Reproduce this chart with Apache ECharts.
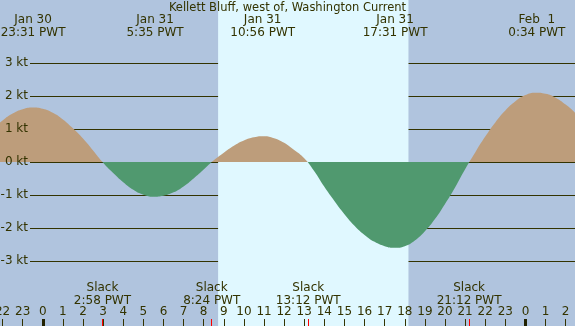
<!DOCTYPE html>
<html><head><meta charset="utf-8">
<script src="https://cdn.jsdelivr.net/npm/echarts@6/dist/echarts.min.js"></script>
<style>html,body{margin:0;padding:0;background:#b0c4de}#c{width:575px;height:326px}</style>
</head><body><div id="c"></div>
<script>
const titleText = 'Kellett Bluff, west of, Washington Current';
// hours relative to Jan 31 00:00 PWT (half-hourly readings)
const hours  = [-2.5, -2, -1.5, -1, -0.5, 0, 0.5, 1, 1.5, 2, 2.5, 3, 3.5, 4, 4.5, 5, 5.5, 6, 6.5, 7, 7.5, 8, 8.5, 9, 9.5, 10, 10.5, 11, 11.5, 12, 12.5, 13, 13.5, 14, 14.5, 15, 15.5, 16, 16.5, 17, 17.5, 18, 18.5, 19, 19.5, 20, 20.5, 21, 21.5, 22, 22.5, 23, 23.5, 24, 24.5, 25, 25.5, 26, 26.5, 27];
const speeds = [0.99, 1.26, 1.47, 1.60, 1.65, 1.61, 1.49, 1.29, 1.02, 0.71, 0.35, -0.02, -0.33, -0.61, -0.84, -0.99, -1.05, -1.02, -0.92, -0.74, -0.50, -0.23, 0.05, 0.28, 0.49, 0.65, 0.75, 0.78, 0.72, 0.58, 0.36, 0.11, -0.28, -0.75, -1.18, -1.58, -1.93, -2.21, -2.42, -2.55, -2.60, -2.55, -2.38, -2.10, -1.73, -1.27, -0.77, -0.22, 0.29, 0.77, 1.20, 1.56, 1.84, 2.03, 2.10, 2.07, 1.95, 1.74, 1.47, 1.13];
const extremeHours  = [-0.483, 5.583, 10.933, 17.517, 24.567];
const extremeLabels = ['Jan 30\n23:31 PWT', 'Jan 31\n5:35 PWT', 'Jan 31\n10:56 PWT', 'Jan 31\n17:31 PWT', 'Feb  1\n0:34 PWT'];
const slackHours  = [2.967, 8.4, 13.2, 21.2];
const slackLabels = ['Slack\n2:58 PWT', 'Slack\n8:24 PWT', 'Slack\n13:12 PWT', 'Slack\n21:12 PWT'];
const tickHours = [-2, -1, 0, 1, 2, 3, 4, 5, 6, 7, 8, 9, 10, 11, 12, 13, 14, 15, 16, 17, 18, 19, 20, 21, 22, 23, 24, 25, 26];
const midnightHours = [0, 24];
const speedTicks = [-3, -2, -1, 0, 1, 2, 3];
const daylight = [8.717, 18.183];
const xRange = [-2.128, 26.464];
const yRange = [-164 / 33, 162 / 33];

const FONT = 'DejaVu Sans';
const TXT = '#333300';
const NIGHT = '#b0c4de', DAY = '#e0f8ff', FLOOD = '#bd9d7b', EBB = '#50996f';

function pick(vals, labels) {
  return v => { const i = vals.findIndex(x => Math.abs(x - v) < 1e-6); return i < 0 ? '' : labels[i]; };
}

const chart = echarts.init(document.getElementById('c'), null, {renderer: 'canvas'});
const baseX = {type: 'value', min: xRange[0], max: xRange[1], gridIndex: 0, position: 'bottom',
  axisLine: {show: false, onZero: false}, splitLine: {show: false}, z: 5};
chart.setOption({
  backgroundColor: NIGHT,
  animation: false,
  title: {text: titleText, left: 'center', top: 2, padding: 0,
    textStyle: {fontFamily: FONT, fontSize: 11.5, fontWeight: 'normal', color: TXT}},
  grid: [
    {left: 0, right: 0, top: 0, bottom: 0, containLabel: false, outerBoundsMode: 'none'},
    {left: 30, right: 0, top: 0, bottom: 0, containLabel: false, outerBoundsMode: 'none'}
  ],
  xAxis: [
    Object.assign({}, baseX, {
      axisTick: {show: true, inside: true, length: 7, customValues: tickHours, lineStyle: {color: TXT, width: 1}},
      axisLabel: {show: true, inside: true, margin: 8, customValues: tickHours, hideOverlap: false,
        formatter: v => String(((Math.round(v) % 24) + 24) % 24), fontFamily: FONT, fontSize: 12, color: TXT}
    }),
    Object.assign({}, baseX, {
      axisTick: {show: true, inside: true, length: 7, customValues: midnightHours, lineStyle: {color: '#222200', width: 3}},
      axisLabel: {show: false}
    }),
    Object.assign({}, baseX, {
      axisTick: {show: true, inside: true, length: 7, customValues: slackHours, lineStyle: {color: '#ff0000', width: 1}},
      axisLabel: {show: true, inside: true, margin: 19, customValues: slackHours, hideOverlap: false,
        formatter: pick(slackHours, slackLabels), fontFamily: FONT, fontSize: 12, lineHeight: 12.5, color: TXT}
    }),
    Object.assign({}, baseX, {position: 'top',
      axisTick: {show: false},
      axisLabel: {show: true, inside: true, margin: 14, customValues: extremeHours, hideOverlap: false,
        formatter: pick(extremeHours, extremeLabels), fontFamily: FONT, fontSize: 12, lineHeight: 12.5, color: TXT}
    }),
    {type: 'value', gridIndex: 1, min: xRange[0], max: xRange[1], show: false}
  ],
  yAxis: [
    {type: 'value', gridIndex: 0, min: yRange[0], max: yRange[1], show: false},
    {type: 'value', gridIndex: 1, position: 'left', min: yRange[0], max: yRange[1], z: 1,
      axisLine: {show: false, onZero: false},
      axisTick: {show: false, customValues: speedTicks},
      axisLabel: {show: false},
      splitLine: {show: true, lineStyle: {color: TXT, width: 1}}},
    {type: 'value', gridIndex: 1, position: 'left', min: yRange[0], max: yRange[1], z: 6,
      axisLine: {show: false, onZero: false},
      axisTick: {show: false, customValues: speedTicks},
      axisLabel: {show: true, margin: 2, customValues: speedTicks, hideOverlap: false, padding: [3, 0, 0, 0],
        formatter: v => Math.round(v) + ' kt', fontFamily: FONT, fontSize: 12, color: TXT},
      splitLine: {show: false}}
  ],
  series: [
    {type: 'line', xAxisIndex: 0, yAxisIndex: 0, z: 2, smooth: 0.5, symbol: 'none', silent: true,
      data: hours.map((h, i) => [h, speeds[i]]),
      lineStyle: {width: 0}, areaStyle: {opacity: 1, color: FLOOD}},
    {type: 'line', xAxisIndex: 0, yAxisIndex: 0, z: 0, symbol: 'none', silent: true,
      data: [[xRange[0], 0]], lineStyle: {width: 0},
      markArea: {silent: true, itemStyle: {color: DAY}, data: [[{xAxis: daylight[0]}, {xAxis: daylight[1]}]]}}
  ]
});
// split the fill colour at the zero-speed line, located through the y axis scale
const H = chart.getHeight();
const y0 = chart.convertToPixel({yAxisIndex: 0}, 0);
const p = y0 / H;
chart.setOption({series: [{areaStyle: {opacity: 1, color: new echarts.graphic.LinearGradient(0, 0, 0, H, [
  {offset: 0, color: FLOOD}, {offset: p, color: FLOOD}, {offset: p, color: EBB}, {offset: 1, color: EBB}
], true)}}]});
</script></body></html>
